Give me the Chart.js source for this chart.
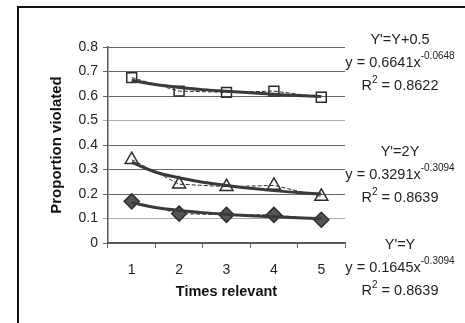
<!DOCTYPE html>
<html>
<head>
<meta charset="utf-8">
<script src="https://cdn.jsdelivr.net/npm/chart.js@4.4.0/dist/chart.umd.min.js"></script>
<style>
  html, body { margin: 0; padding: 0; background: #fff; }
  #wrap { width: 465px; height: 323px; }
</style>
</head>
<body>
<div id="wrap"><canvas id="myChart" width="465" height="323"></canvas></div>
<script>
let times = ["1", "2", "3", "4", "5"],
  plusHalf = [0.675, 0.62, 0.615, 0.62, 0.595],
  doubled = [0.34, 0.24, 0.23, 0.235, 0.19],
  same = [0.17, 0.12, 0.115, 0.115, 0.095],
  trendX = [1, 1.5, 2, 2.5, 3, 3.5, 4, 4.5, 5],
  trendPlusHalf = [0.664, 0.647, 0.635, 0.626, 0.619, 0.613, 0.607, 0.602, 0.598],
  trendDoubled = [0.329, 0.29, 0.266, 0.248, 0.235, 0.223, 0.214, 0.206, 0.2],
  trendSame = [0.165, 0.145, 0.133, 0.124, 0.117, 0.111, 0.107, 0.103, 0.1],
  yTicks = [0, 0.1, 0.2, 0.3, 0.4, 0.5, 0.6, 0.7, 0.8],
  notes = [
    { title: "Y'=Y+0.5", eq: "y = 0.6641x", exp: "-0.0648", r2: "0.8622", y: 40 },
    { title: "Y'=2Y", eq: "y = 0.3291x", exp: "-0.3094", r2: "0.8639", y: 152 },
    { title: "Y'=Y", eq: "y = 0.1645x", exp: "-0.3094", r2: "0.8639", y: 245 },
  ];

const ink = "#2b2b2b";
const font = "'Liberation Sans', Arial, sans-serif";

function trend(values) {
  return trendX.map((x, i) => ({ x: x, y: values[i] }));
}

function trendSet(values) {
  return {
    type: "line",
    xAxisID: "xt",
    data: trend(values),
    borderColor: "#3a3a3a",
    borderWidth: 3,
    pointRadius: 0,
    tension: 0.4,
    fill: false,
  };
}

function dataSet(values, style, fillColor, radius) {
  return {
    type: "line",
    xAxisID: "x",
    data: values,
    borderColor: ink,
    borderWidth: 1,
    borderDash: [4, 2],
    pointStyle: style,
    pointRadius: radius,
    pointBackgroundColor: fillColor,
    pointBorderColor: ink,
    pointBorderWidth: 1.5,
    fill: false,
  };
}

// frame and the equations on the right
const extras = {
  id: "extras",
  afterDraw(chart) {
    const c = chart.ctx;
    c.save();
    c.strokeStyle = "#111";
    c.lineWidth = 2;
    c.beginPath();
    c.moveTo(18, 323);
    c.lineTo(18, 7);
    c.lineTo(465, 7);
    c.stroke();

    c.fillStyle = "#222";
    c.textBaseline = "middle";
    const cx = 400;
    const big = "14.5px " + font, small = "10px " + font;
    notes.forEach((n) => {
      c.font = big;
      c.textAlign = "center";
      c.fillText(n.title, cx, n.y);

      let w1 = c.measureText(n.eq).width;
      c.font = small;
      let w2 = c.measureText(n.exp).width;
      let left = cx - (w1 + w2) / 2;
      c.textAlign = "left";
      c.font = big;
      c.fillText(n.eq, left, n.y + 23);
      c.font = small;
      c.fillText(n.exp, left + w1, n.y + 16);

      c.font = big;
      let a = "R", b = " = " + n.r2;
      let wa = c.measureText(a).width, wb = c.measureText(b).width;
      c.font = small;
      let ws = c.measureText("2").width;
      let l2 = cx - (wa + ws + wb) / 2;
      c.font = big;
      c.fillText(a, l2, n.y + 46);
      c.font = small;
      c.fillText("2", l2 + wa, n.y + 40);
      c.font = big;
      c.fillText(b, l2 + wa + ws, n.y + 46);
    });
    c.restore();
  },
};

var ctx = document.getElementById("myChart").getContext("2d");
var myChart = new Chart(ctx, {
  data: {
    labels: times,
    datasets: [
      trendSet(trendPlusHalf),
      trendSet(trendDoubled),
      trendSet(trendSame),
      dataSet(plusHalf, "rect", "rgba(255,255,255,0)", 7),
      dataSet(doubled, "triangle", "rgba(255,255,255,0)", 7.5),
      dataSet(same, "rectRot", "#555", 7.5),
    ],
  },
  options: {
    responsive: false,
    animation: false,
    layout: { padding: { left: 20, right: 120, top: 47, bottom: 0 } },
    plugins: { legend: { display: false }, tooltip: { enabled: false } },
    scales: {
      x: {
        type: "category",
        offset: true,
        grid: {
          offset: true,
          drawOnChartArea: false,
          tickLength: 5,
          color: "#666",
        },
        border: { color: "#555", width: 1.5 },
        ticks: { color: "#222", font: { family: font, size: 14 }, padding: 14 },
        title: {
          display: true,
          text: "Times relevant",
          color: "#111",
          font: { family: font, size: 14.5, weight: "bold" },
          padding: { top: 8, bottom: 22 },
        },
        afterFit(scale) { scale.height = 80; },
      },
      xt: { type: "linear", min: 0.5, max: 5.5, display: false },
      y: {
        min: 0,
        max: 0.8,
        afterBuildTicks(scale) { scale.ticks = yTicks.map((v) => ({ value: v })); },
        grid: {
          color: (c) => (c.tick && (c.tick.value === 0.5 || c.tick.value === 0.1) ? "#aaa" : "#666"),
          tickLength: 5,
        },
        border: { color: "#555", width: 1.5 },
        ticks: {
          color: "#222",
          font: { family: font, size: 14 },
          padding: 5,
          callback: (v) => String(Math.round(v * 10) / 10),
        },
        title: {
          display: true,
          text: "Proportion violated",
          color: "#111",
          font: { family: font, size: 15, weight: "bold" },
          padding: { top: 28, bottom: 0 },
        },
        afterFit(scale) { scale.width = 88; },
      },
    },
  },
  plugins: [extras],
});
</script>
</body>
</html>
